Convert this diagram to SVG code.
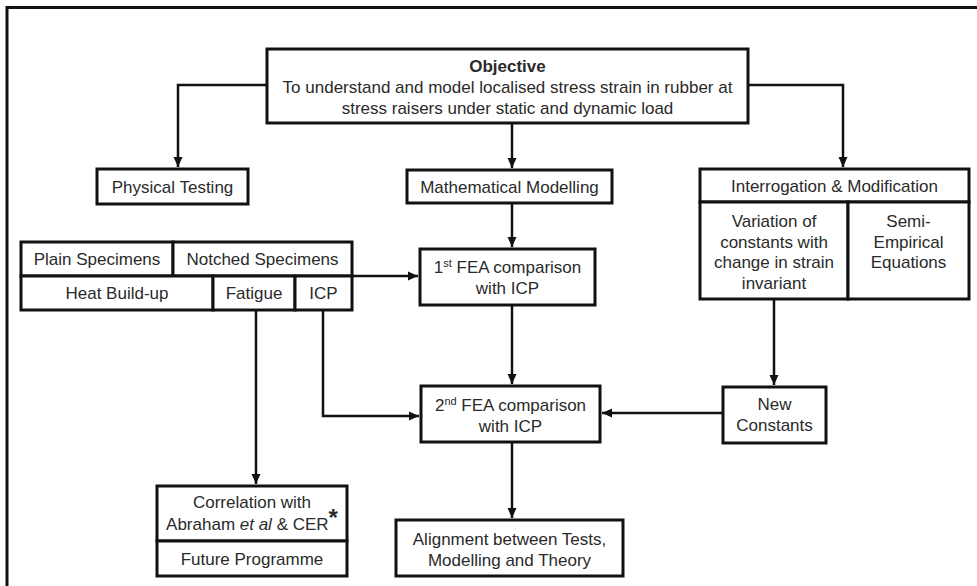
<svg xmlns="http://www.w3.org/2000/svg" width="977" height="586" viewBox="0 0 977 586">
<style>
.box{fill:#fff;stroke:#111;stroke-width:3}
.t{font-family:"Liberation Sans",Arial,sans-serif;font-size:17px;fill:#2a2a2a;text-anchor:middle}
.b{font-weight:bold}
.c{fill:none;stroke:#111;stroke-width:2.5}
.frame{fill:none;stroke:#111;stroke-width:3}
</style>
<defs>
<marker id="ah" markerUnits="userSpaceOnUse" markerWidth="10" markerHeight="10" refX="10" refY="5" orient="auto">
<path d="M0,0.5 L10,5 L0,9.5 z" fill="#111"/>
</marker>
</defs>
<rect width="977" height="586" fill="#fff"/>
<rect class="frame" x="7" y="7.5" width="1000" height="620"/>

<g id="connectors">
<path class="c" d="M267,85 H178 V167" marker-end="url(#ah)"/>
<path class="c" d="M512,123 V168" marker-end="url(#ah)"/>
<path class="c" d="M748,85 H843 V167" marker-end="url(#ah)"/>
<path class="c" d="M352,276 H418" marker-end="url(#ah)"/>
<path class="c" d="M512,203 V247" marker-end="url(#ah)"/>
<path class="c" d="M512,305 V384" marker-end="url(#ah)"/>
<path class="c" d="M323,310 V416 H419" marker-end="url(#ah)"/>
<path class="c" d="M256,310 V484" marker-end="url(#ah)"/>
<path class="c" d="M774,299 V385" marker-end="url(#ah)"/>
<path class="c" d="M723,413 H602" marker-end="url(#ah)"/>
<path class="c" d="M512,442 V518" marker-end="url(#ah)"/>
</g>

<g id="objective">
<rect class="box" x="267" y="49" width="481" height="74"/>
<text class="t b" x="507.5" y="72">Objective</text>
<text class="t" x="507.5" y="93">To understand and model localised stress strain in rubber at</text>
<text class="t" x="507.5" y="114">stress raisers under static and dynamic load</text>
</g>

<g id="physical-testing">
<rect class="box" x="97" y="169" width="151" height="35"/>
<text class="t" x="172.5" y="193">Physical Testing</text>
</g>

<g id="mathematical-modelling">
<rect class="box" x="407" y="170" width="205" height="33"/>
<text class="t" x="509.5" y="193">Mathematical Modelling</text>
</g>

<g id="interrogation">
<rect class="box" x="700" y="169" width="269" height="33"/>
<text class="t" x="834.5" y="192">Interrogation &amp; Modification</text>
</g>

<g id="variation">
<rect class="box" x="700" y="202" width="148" height="97"/>
<text class="t" x="774" y="227">Variation of</text>
<text class="t" x="774" y="248">constants with</text>
<text class="t" x="774" y="268">change in strain</text>
<text class="t" x="774" y="289">invariant</text>
</g>

<g id="semi-empirical">
<rect class="box" x="848" y="202" width="121" height="97"/>
<text class="t" x="908.5" y="227">Semi-</text>
<text class="t" x="908.5" y="248">Empirical</text>
<text class="t" x="908.5" y="268">Equations</text>
</g>

<g id="plain-specimens">
<rect class="box" x="21" y="242" width="152" height="34"/>
<text class="t" x="97" y="265">Plain Specimens</text>
</g>

<g id="notched-specimens">
<rect class="box" x="173" y="242" width="179" height="34"/>
<text class="t" x="262.5" y="265">Notched Specimens</text>
</g>

<g id="heat-build-up">
<rect class="box" x="21" y="276" width="192" height="34"/>
<text class="t" x="117" y="299">Heat Build-up</text>
</g>

<g id="fatigue">
<rect class="box" x="213" y="276" width="82" height="34"/>
<text class="t" x="254" y="299">Fatigue</text>
</g>

<g id="icp">
<rect class="box" x="295" y="276" width="57" height="34"/>
<text class="t" x="323.5" y="299">ICP</text>
</g>

<g id="fea1">
<rect class="box" x="420" y="249" width="175" height="56"/>
<text class="t" x="507.5" y="273">1<tspan font-size="11" dy="-6">st</tspan><tspan dy="6"> FEA comparison</tspan></text>
<text class="t" x="507.5" y="294">with ICP</text>
</g>

<g id="fea2">
<rect class="box" x="421" y="386" width="179" height="56"/>
<text class="t" x="510.5" y="411">2<tspan font-size="11" dy="-6">nd</tspan><tspan dy="6"> FEA comparison</tspan></text>
<text class="t" x="510.5" y="432">with ICP</text>
</g>

<g id="new-constants">
<rect class="box" x="723" y="387" width="103" height="56"/>
<text class="t" x="774.5" y="410">New</text>
<text class="t" x="774.5" y="431">Constants</text>
</g>

<g id="correlation">
<rect class="box" x="157" y="486" width="190" height="55"/>
<text class="t" x="252" y="508">Correlation with</text>
<text class="t" x="252" y="530">Abraham <tspan font-style="italic">et al</tspan> &amp; CER<tspan font-size="24" font-weight="bold" dy="-4">*</tspan></text>
</g>

<g id="future-programme">
<rect class="box" x="157" y="541" width="190" height="35"/>
<text class="t" x="252" y="565">Future Programme</text>
</g>

<g id="alignment">
<rect class="box" x="396" y="520" width="227" height="56"/>
<text class="t" x="509.5" y="545">Alignment between Tests,</text>
<text class="t" x="509.5" y="566">Modelling and Theory</text>
</g>
</svg>
